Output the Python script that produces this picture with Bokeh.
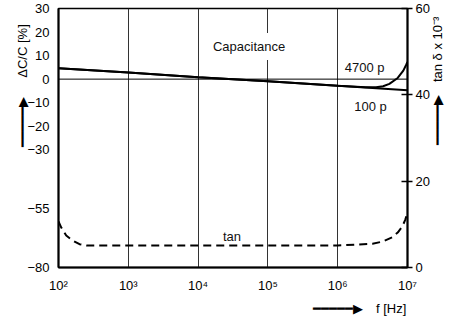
import numpy as np
from bokeh.plotting import figure
from bokeh.models import Range1d, LinearAxis, LogAxis, FixedTicker, Span, Label
from bokeh.embed import file_html
from bokeh.resources import INLINE

FONT = "Liberation Sans"

# ---- data ----
freq_ticks = [100, 1000, 10000, 100000, 1000000, 10000000]
freq_labels = ["10²", "10³", "10⁴", "10⁵", "10⁶", "10⁷"]
dc_ticks = [30, 20, 10, 0, -10, -20, -30, -55, -80]
tan_ticks = [0, 20, 40, 60]

cap100_f = [1e2, 1e3, 1e4, 1e5, 1e6, 1e7]
cap100_v = [4.6, 2.8, 0.8, -0.9, -2.8, -4.7]

cap4700_f = [1e2, 1e3, 1e4, 1e5, 1e6, 2.51e6, 3.55e6, 4.47e6, 5.5e6, 7.24e6, 8.71e6, 9.55e6, 1e7]
cap4700_v = [4.6, 2.8, 0.8, -0.9, -2.8, -3.4, -3.4, -3.0, -2.0, 0.5, 3.6, 6.0, 7.3]

tan_f = [1e2, 110, 129, 158, 200, 251, 1e3, 1e4, 1e5, 1e6, 3.16e6, 4.37e6, 6.03e6, 7.24e6, 8.5e6, 9.3e6, 1e7]
tan_v = [10.7, 9.2, 7.4, 6.3, 5.4, 5.1, 5.1, 5.1, 5.1, 5.1, 5.5, 6.0, 7.0, 8.1, 9.6, 11.1, 12.7]

left_title = "ΔC/C [%]"
right_title = "tan δ x 10⁻³"
x_title = "f [Hz]"
ARROW = "━━━━━▶"

# ---- figure ----
p = figure(width=459, height=318, x_axis_type="log",
           x_range=Range1d(1e2, 1e7), y_range=Range1d(-80, 30),
           output_backend="svg", toolbar_location=None,
           min_border_left=58, min_border_right=52, min_border_top=8, min_border_bottom=50)
p.extra_y_ranges = {"tan": Range1d(0, 60)}
p.background_fill_color = "white"
p.border_fill_color = "white"
p.outline_line_color = "black"
p.outline_line_width = 1.5


def style_axis(ax, standoff, ticks=True):
    ax.minor_tick_line_color = None
    ax.minor_tick_in = 0
    ax.minor_tick_out = 0
    if not ticks:
        ax.major_tick_line_color = None
        ax.major_tick_in = 0
        ax.major_tick_out = 0
    ax.major_label_standoff = standoff
    ax.major_label_text_font = FONT
    ax.major_label_text_font_size = "13px"
    ax.major_label_text_color = "black"


# x axis
xa = p.xaxis[0]
xa.ticker = FixedTicker(ticks=freq_ticks)
xa.major_label_overrides = {t: l for t, l in zip(freq_ticks, freq_labels)}
xa.axis_line_width = 2
style_axis(xa, 10, ticks=False)

# left axis
ya = p.yaxis[0]
ya.ticker = FixedTicker(ticks=dc_ticks)
ya.axis_line_width = 2
style_axis(ya, 9, ticks=False)

# right axis
ra = LinearAxis(y_range_name="tan", ticker=FixedTicker(ticks=tan_ticks))
ra.major_tick_in = 6
ra.major_tick_out = 5
ra.major_tick_line_width = 1.5
ra.axis_line_width = 2
style_axis(ra, 3)
p.add_layout(ra, "right")


# text-only axes carrying the axis titles with their arrows (outside the frame)
def text_axis(side, tick, label, standoff, orientation):
    if side in ("left", "right"):
        ax = LinearAxis(ticker=FixedTicker(ticks=[tick]))
    else:
        ax = LogAxis(ticker=FixedTicker(ticks=[tick]))
    ax.major_label_overrides = {tick: label}
    ax.axis_line_color = None
    style_axis(ax, standoff, ticks=False)
    ax.major_label_orientation = orientation
    p.add_layout(ax, side)


text_axis("left", 23.3, ARROW + "\u2003\u2002" + left_title, 2, np.pi / 2)
text_axis("right", -28, ARROW + "\u2003" + right_title, 5, np.pi / 2)
text_axis("below", 2060000, ARROW + "\u2003" + x_title, 5, "horizontal")

# grids
p.xgrid.ticker = FixedTicker(ticks=freq_ticks)
p.xgrid.grid_line_color = "#333333"
p.xgrid.grid_line_width = 1
p.ygrid.grid_line_color = None
p.add_layout(Span(location=0, dimension="width", line_color="black", line_width=1))

# curves
p.line(cap4700_f, cap4700_v, line_color="black", line_width=2)
p.line(cap100_f, cap100_v, line_color="black", line_width=2)
p.line(tan_f, tan_v, y_range_name="tan", line_color="black", line_width=2, line_dash="8 5")


def lab(x, y, text, **kw):
    opts = dict(text_font=FONT, text_font_size="13px", text_color="#111111",
                text_align="center", text_baseline="middle")
    opts.update(kw)
    p.add_layout(Label(x=x, y=y, text=text, **opts))


lab(53700, 13.9, "Capacitance", background_fill_color="white", padding=6)
lab(2.43e6, 5.0, "4700 p")
lab(2.95e6, -11.5, "100 p")
lab(30600, -66.9, "tan")

open("out.html", "w").write(file_html(p, INLINE))
